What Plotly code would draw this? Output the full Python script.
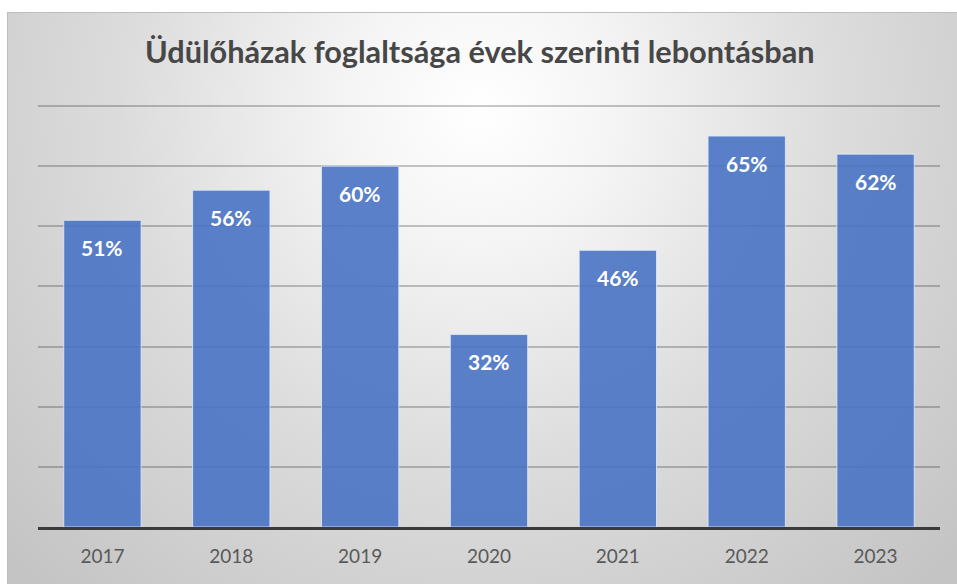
import base64
import plotly.graph_objects as go

years = ["2017", "2018", "2019", "2020", "2021", "2022", "2023"]
occupancy = [0.51, 0.56, 0.60, 0.32, 0.46, 0.65, 0.62]
labels = ["51%", "56%", "60%", "32%", "46%", "65%", "62%"]
title_text = "Üdülőházak foglaltsága évek szerinti lebontásban"

W, H = 957, 584
L, R, T, B = 38, 17, 105, 57
pw, ph = W - L - R, H - T - B

# radial gradient background (chart area from x=7,y=12 to page edge)
bx0, by0, bx1, by1 = 7, 12, 957, 584
bw, bh = bx1 - bx0, by1 - by0
svg = f'''<svg xmlns="http://www.w3.org/2000/svg" width="{bw}" height="{bh}" viewBox="0 0 {bw} {bh}">
<defs><radialGradient id="g" gradientUnits="userSpaceOnUse" cx="{480-bx0}" cy="{110-by0}" r="650">
<stop offset="0" stop-color="#ffffff"/><stop offset="0.2" stop-color="#f5f5f5"/>
<stop offset="0.55" stop-color="#dcdcdc"/><stop offset="1" stop-color="#c4c4c4"/></radialGradient></defs>
<rect x="0" y="0" width="{bw}" height="{bh}" fill="url(#g)"/>
<rect x="0.5" y="0.5" width="{bw+5}" height="{bh+5}" fill="none" stroke="#bdbdbd" stroke-width="1"/>
</svg>'''
src = "data:image/svg+xml;base64," + base64.b64encode(svg.encode()).decode()

fig = go.Figure()
fig.add_trace(go.Bar(
    x=years, y=occupancy,
    marker=dict(color="rgba(72,115,195,0.9)", line=dict(color="rgba(225,235,250,0.8)", width=1)),
    hoverinfo="skip",
))

for i, (v, lab) in enumerate(zip(occupancy, labels)):
    fig.add_annotation(x=i, y=v, text=lab, showarrow=False, yanchor="middle", yshift=-27,
                       font=dict(family="Lato", size=21, color="white", weight="bold"))

fig.add_annotation(xref="paper", yref="paper", x=(480 - L) / pw, y=(H - B - 52) / ph,
                   text=title_text, showarrow=False, xanchor="center", yanchor="middle",
                   font=dict(family="Lato", size=30.7, color="#474747", weight="bold"))

fig.update_layout(
    width=W, height=H,
    margin=dict(l=L, r=R, t=T, b=B),
    paper_bgcolor="white", plot_bgcolor="rgba(0,0,0,0)",
    bargap=0.40, showlegend=False,
    images=[dict(source=src, xref="paper", yref="paper",
                 x=(bx0 - L) / pw, y=(H - B - by0) / ph,
                 sizex=bw / pw, sizey=bh / ph, sizing="stretch",
                 xanchor="left", yanchor="top", layer="below")],
    xaxis=dict(type="category", range=[-0.5, len(years) - 0.5], showgrid=False, showline=True,
               linecolor="#3a3a3a", linewidth=3,
               ticks="", tickfont=dict(family="Lato", size=19, color="#595959"), ticklabelstandoff=10),
    yaxis=dict(range=[0, 0.7017], dtick=0.1, showgrid=True, gridcolor="rgba(0,0,0,0.22)", gridwidth=2,
               showticklabels=False, zeroline=False, showline=False, ticks=""),
)

fig.write_html("out.html", config={"displayModeBar": False},
               post_script="document.body.style.margin='0';document.body.style.padding='0';")
